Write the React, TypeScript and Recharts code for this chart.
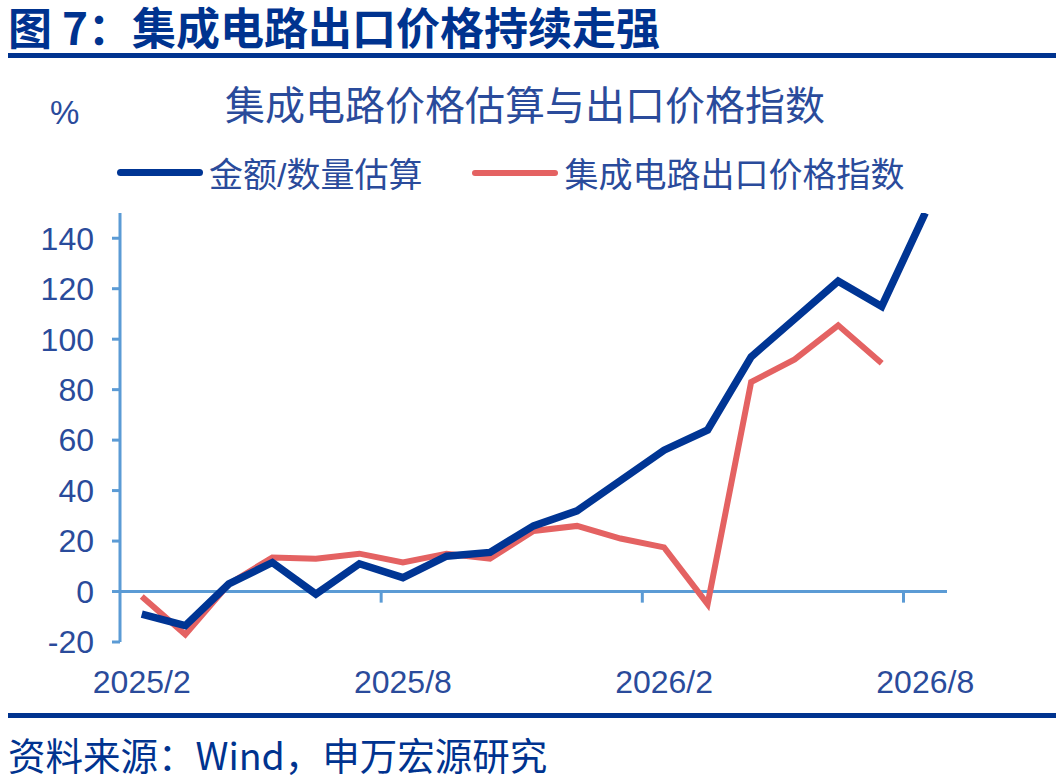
import { LineChart, Line, XAxis, YAxis, ReferenceLine } from "recharts";

const months = [
  "2025/2", "2025/3", "2025/4", "2025/5", "2025/6", "2025/7", "2025/8",
  "2025/9", "2025/10", "2025/11", "2025/12", "2026/1", "2026/2", "2026/3",
  "2026/4", "2026/5", "2026/6", "2026/7", "2026/8",
];
// 金额/数量估算
const estimate = [-9, -13.5, 3, 11.5, -1, 11, 5.5, 14, 15.5, 26, 32, 44, 56, 64, 93, 108, 123, 113, 150];
// 集成电路出口价格指数
const exportIndex = [-2, -17, 3, 13.5, 13, 15, 11.5, 15, 13, 24, 26, 21, 17.5, -5, 83, 92, 105.5, 90.5, null];

const xTicks = [0, 6, 12, 18];
const yTicks = [-20, 0, 20, 40, 60, 80, 100, 120, 140];
const dividers = [5.5, 11.5, 17.5];

const data = months.map((m, i) => ({ idx: i, month: m, estimate: estimate[i], exportIndex: exportIndex[i] }));

const AXIS = "#5B9BD5";
const TEXT = "#2A4B9B";
const NAVY = "#003594";
const RED = "#E46262";
const FONT = "'Liberation Sans', Arial, 'Noto Sans CJK SC', sans-serif";
const CJK = "'Noto Sans CJK SC', sans-serif";

const legendItems = [
  { label: "金额/数量估算", color: NAVY, width: 7 },
  { label: "集成电路出口价格指数", color: RED, width: 6 },
];

export default function App() {
  return (
    <div style={{ position: "absolute", left: 0, top: 0, width: 1056, height: 780, background: "#fff", fontFamily: FONT }}>
      <div style={{ position: "absolute", left: 8, top: 3, fontSize: 44, fontWeight: 700, color: "#00338F", fontFamily: CJK, whiteSpace: "nowrap", lineHeight: "46px" }}>
        图 7：集成电路出口价格持续走强
      </div>
      <div style={{ position: "absolute", left: 8, right: 0, top: 53, height: 5, background: "#00338F" }} />
      <div style={{ position: "absolute", left: 225, top: 78, fontSize: 40, color: TEXT, fontFamily: CJK, whiteSpace: "nowrap", lineHeight: "50px" }}>
        集成电路价格估算与出口价格指数
      </div>
      <div style={{ position: "absolute", left: 50, top: 93, fontSize: 33, color: TEXT, lineHeight: "40px" }}>%</div>

      <div style={{ position: "absolute", left: 117, top: 148, display: "flex", alignItems: "center", fontFamily: FONT, fontSize: 34, color: TEXT, whiteSpace: "nowrap" }}>
        {legendItems.map((it, k) => (
          <div key={k} style={{ display: "flex", alignItems: "center", marginRight: k === 0 ? 50 : 0 }}>
            <div style={{ width: 86, height: it.width, borderRadius: 4, background: it.color, marginRight: 6 }} />
            <span>{it.label}</span>
          </div>
        ))}
      </div>

      <div style={{ position: "absolute", left: 0, top: 0 }}>
        <LineChart width={1056} height={780} data={data} margin={{ top: 213, right: 109, bottom: 78, left: 40 }}>
          <XAxis
            dataKey="idx"
            type="number"
            domain={[-0.5, 18.5]}
            ticks={xTicks}
            tickFormatter={(i: number) => months[i]}
            axisLine={false}
            tickLine={false}
            tickSize={0}
            tickMargin={28}
            height={60}
            tick={{ fill: TEXT, fontSize: 32, fontFamily: FONT }}
          />
          <YAxis
            domain={[-20, 150]}
            ticks={yTicks}
            allowDataOverflow
            width={80}
            axisLine={{ stroke: AXIS, strokeWidth: 3 }}
            tickLine={{ stroke: AXIS, strokeWidth: 3 }}
            tickSize={8}
            tickMargin={18}
            tick={{ fill: TEXT, fontSize: 32, fontFamily: FONT }}
          />
          <ReferenceLine y={0} stroke={AXIS} strokeWidth={3} />
          {dividers.map((d) => (
            <ReferenceLine key={d} segment={[{ x: d, y: 0 }, { x: d, y: -4.4 }]} stroke={AXIS} strokeWidth={3} />
          ))}
          <Line dataKey="exportIndex" stroke={RED} strokeWidth={6} dot={false} isAnimationActive={false} strokeLinejoin="miter" />
          <Line dataKey="estimate" stroke={NAVY} strokeWidth={7.5} dot={false} isAnimationActive={false} strokeLinejoin="miter" />
        </LineChart>
      </div>

      <div style={{ position: "absolute", left: 8, right: 0, top: 713, height: 5, background: "#00338F" }} />
      <div style={{ position: "absolute", left: 8, top: 731, fontSize: 37.5, color: "#00338F", fontFamily: CJK, whiteSpace: "nowrap", lineHeight: "46px" }}>
        资料来源：Wind，申万宏源研究
      </div>
    </div>
  );
}
